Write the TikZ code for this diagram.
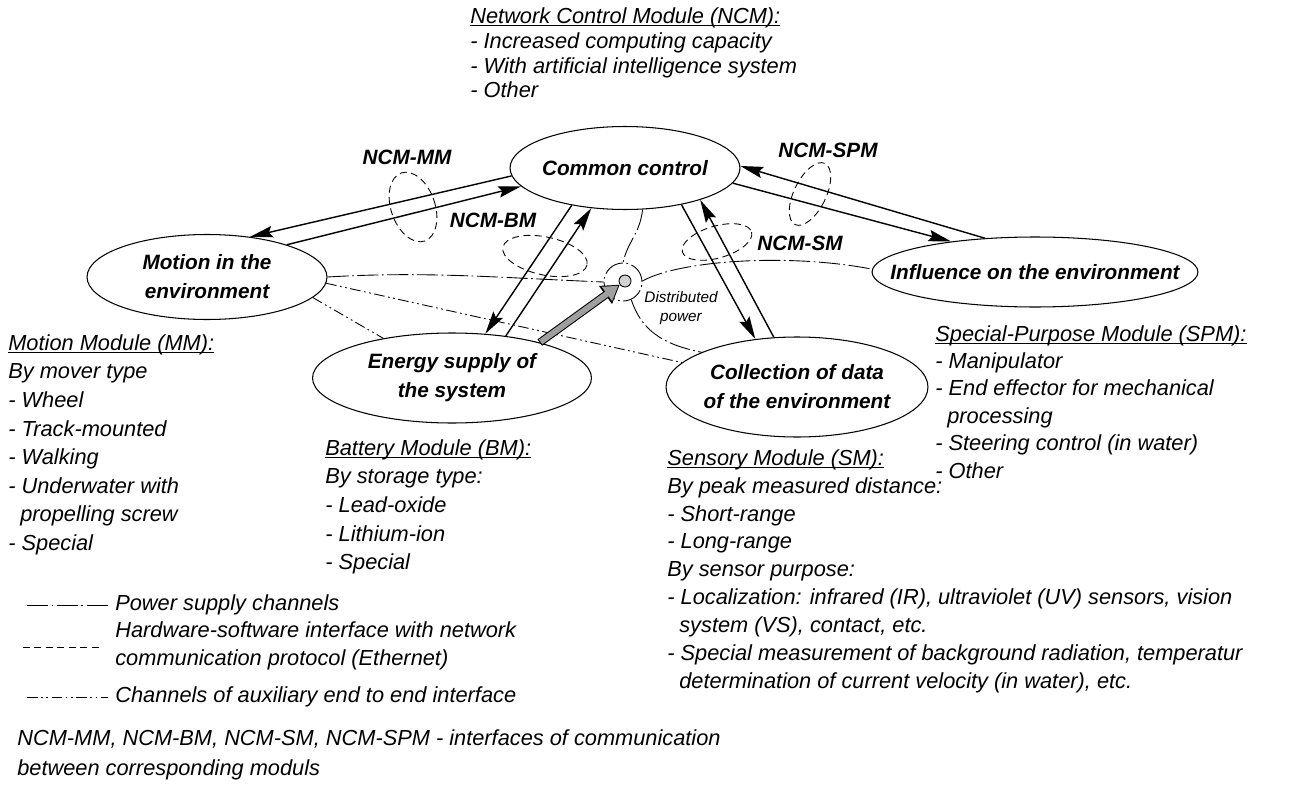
\documentclass[tikz,border=0pt]{standalone}
\usepackage{fontspec}
\setmainfont{Liberation Sans}
\usetikzlibrary{shapes.geometric, arrows.meta}

% underlined heading of a module description
\newcommand{\modhead}[1]{\underline{\raisebox{0pt}[\height][0pt]{#1}}}

\begin{document}
\begin{tikzpicture}[x=0.02cm, y=-0.02cm,
  unit/.style={draw, ellipse, line width=0.6pt, inner sep=0pt, label={[unittext]center:#1}},
  unittext/.style={font=\fontsize{11.8}{16.5}\selectfont\bfseries\itshape, align=center, inner sep=0pt},
  ifname/.style={font=\fontsize{11.8}{14}\selectfont\bfseries\itshape, inner sep=0pt},
  notes/.style={anchor=north west, align=left, inner sep=0pt, font=\fontsize{12.4}{#1}\selectfont\itshape},
  key/.style={anchor=west, align=left, inner sep=0pt, font=\fontsize{12.4}{15.9}\selectfont\itshape},
  link/.style={line width=0.8pt, -{Stealth[length=13pt, width=6.5pt, inset=2pt]}},
  power/.style={line width=0.5pt, dash pattern=on 12pt off 2pt on 1pt off 2pt},
  aux/.style={line width=0.5pt, dash pattern=on 6pt off 2pt on 1pt off 2pt on 1pt off 2pt},
  iface/.style={line width=0.5pt, dash pattern=on 4pt off 2.5pt},
]
\useasboundingbox (0,0) rectangle (1292,791);

% The five units of the robot
\node[unit={Common control}, minimum width=4.6cm, minimum height=1.66cm] (cc) at (625,168) {};
\node[unit={Motion in the\\environment}, minimum width=4.8cm, minimum height=1.7cm] (mm) at (207,277) {};
\node[unit={Energy supply of\\the system}, minimum width=5.58cm, minimum height=1.8cm] (bm) at (452,378) {};
\node[unit={Collection of data\\of the environment}, minimum width=5.24cm, minimum height=2cm] (sm) at (797,387) {};
\node[unit={Influence on the environment}, minimum width=6.52cm, minimum height=1.4cm] (spm) at (1035,272) {};

% Distributed power point
\node[draw, circle, power, minimum size=0.76cm, inner sep=0pt] (dp) at (623,282) {};
\node[draw, circle, fill=gray!35, line width=0.5pt, minimum size=0.24cm, inner sep=0pt] (dpc) at (625,281) {};
\node[font=\fontsize{8.7}{11.3}\selectfont\itshape, align=center, inner sep=0pt] (dpt) at (681,308) {Distributed\\power};

% Links between the control unit and the modules
\draw[link] (cc.184) -- (mm.43);
\draw[link] (mm.22) -- (cc.190);
\draw[link] (cc.215) -- (bm.53);
\draw[link] (bm.38) -- (cc.230);
\draw[link] (cc.327) -- (sm.131);
\draw[link] (sm.115) -- (cc.337);
\draw[link] (spm.146) -- (cc.1);
\draw[link] (cc.352) -- (spm.160);

% Power supply channels
\draw[power] (mm.0) .. controls +(100,-6) and +(-100,-4) .. (dp.180);
\draw[power] (dp.3) .. controls +(38,-21) and +(-82,-16) .. (spm.179);
\draw[power] (cc.293) .. controls +(-3,25) and +(5,-22) .. (dp.90);
\draw[power] (dp.295) .. controls +(10,30) and +(-40,-8) .. (sm.160.7);

% Auxiliary end to end channels
\draw[aux] (mm.357) -- (sm.168.6);
\draw[aux] (mm.349.5) -- (bm.150);

% Energy flow into the distribution point
\draw[line width=4.5pt, -{Triangle[length=10pt, width=12pt]}] (bm.22) -- (dpc.215);
\draw[line width=3.3pt, gray!75, -{Triangle[length=8pt, width=9.5pt]}, shorten >=1pt, shorten <=0.6pt] (bm.22) -- (dpc.215);

% Interfaces of communication
\draw[iface] (413,207) ellipse[x radius=22, y radius=36, rotate=19];
\draw[iface] (545,256) ellipse[x radius=43, y radius=19, rotate=-12];
\draw[iface] (717,242) ellipse[x radius=36, y radius=16, rotate=16];
\draw[iface] (810,194) ellipse[x radius=16, y radius=34, rotate=-26];
\node[ifname] (lmm) at (407,157) {NCM-MM};
\node[ifname] (lbm) at (493,220) {NCM-BM};
\node[ifname] (lsm) at (800,243) {NCM-SM};
\node[ifname] (lspm) at (828,150) {NCM-SPM};

% Module descriptions
\node[notes=14.2pt] (ncm) at (470,7) {\modhead{Network Control Module (NCM):}\\- Increased computing capacity\\- With artificial intelligence system\\- Other};
\node[notes=16.3pt] (mmtxt) at (8,334) {\modhead{Motion Module (MM):}\\By mover type\\- Wheel\\- Track-mounted\\- Walking\\- Underwater with\\\hspace*{0.55em}propelling screw\\- Special};
\node[notes=16.3pt] (bmtxt) at (325,439) {\modhead{Battery Module (BM):}\\By storage type:\\- Lead-oxide\\- Lithium-ion\\- Special};
\node[notes=15.9pt] (smtxt) at (667,449) {\modhead{Sensory Module (SM):}\\By peak measured distance:\\- Short-range\\- Long-range\\By sensor purpose:\\- Localization: infrared (IR), ultraviolet (UV) sensors, vision\\\hspace*{0.55em}system (VS), contact, etc.\\- Special measurement of background radiation, temperatur\\\hspace*{0.55em}determination of current velocity (in water), etc.};
\node[notes=15.6pt] (spmtxt) at (935,325) {\modhead{Special-Purpose Module (SPM):}\\- Manipulator\\- End effector for mechanical\\\hspace*{0.55em}processing\\- Steering control (in water)\\- Other};

% Legend
\node[key] (kpow) at (115,605) {Power supply channels};
\node[key] (kif) at (115,646) {Hardware-software interface with network\\communication protocol (Ethernet)};
\node[key] (kaux) at (115,697) {Channels of auxiliary end to end interface};
\coordinate (kpow0) at (27,605);
\coordinate (kif0) at (23,647);
\coordinate (kaux0) at (27,697);
\draw[power] (kpow0) -- ([xshift=-3pt]kpow.west);
\draw[iface] (kif0) -- ([xshift=-8pt]kif.west |- kif0);
\draw[aux] (kaux0) -- ([xshift=-4pt]kaux.west);
\node[notes=17pt] (knote) at (17,729) {NCM-MM, NCM-BM, NCM-SM, NCM-SPM - interfaces of communication\\between corresponding moduls};
\end{tikzpicture}
\end{document}
